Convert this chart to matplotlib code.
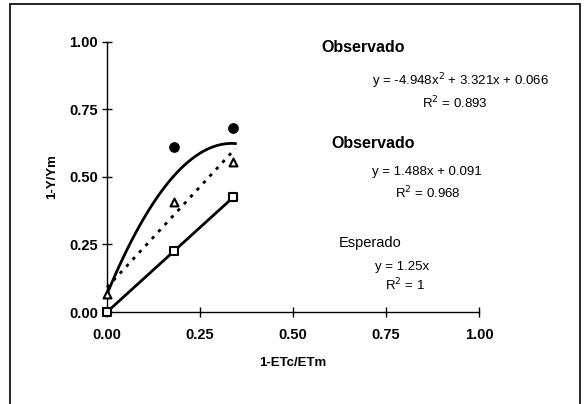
import numpy as np
import matplotlib
matplotlib.use("Agg")
import matplotlib.pyplot as plt
from matplotlib.patches import Rectangle

plt.rcParams['font.family'] = ['Liberation Sans', 'DejaVu Sans']

# data
x_obs = [0.18, 0.34]
y_circ = [0.61, 0.68]          # observed (quadratic fit)
x_tri = [0.0, 0.18, 0.34]
y_tri = [0.066, 0.405, 0.556]  # observed (linear fit)
x_sq = [0.0, 0.18, 0.34]
y_sq = [0.0, 0.225, 0.425]     # expected

# fitted curves (coefficients from the chart labels)
quad = [-4.948, 3.321, 0.066]
lin = [1.488, 0.091]
esp = [1.25, 0.0]
x_fit_end = 0.345

ticks = [0.0, 0.25, 0.5, 0.75, 1.0]
tick_labels = ["0.00", "0.25", "0.50", "0.75", "1.00"]

fig = plt.figure(figsize=(5.86, 4.04), dpi=100)
ax = fig.add_axes([107 / 586, 1 - 312 / 404, 372 / 586, 270.5 / 404])

# outer frame
fig.patches.append(Rectangle((10 / 586, -0.1), 570 / 586, 1.1 - 4 / 404,
                             transform=fig.transFigure, fill=False,
                             edgecolor='black', lw=1.2))

xs = np.linspace(0, x_fit_end, 100)
ax.plot(xs, np.polyval(quad, xs), color='black', lw=2.0, zorder=2, clip_on=False)
ax.plot(xs, np.polyval(lin, xs), color='black', lw=2.0, ls=(0, (1.2, 2.2)), zorder=2, clip_on=False)
ax.plot(xs, np.polyval(esp, xs), color='black', lw=2.0, zorder=2, clip_on=False)

ax.scatter(x_obs, y_circ, s=45, marker='o', color='black', zorder=3, clip_on=False)
ax.scatter(x_tri, y_tri, s=32, marker='^', facecolor='white', edgecolor='black', lw=1.5,
           zorder=3, clip_on=False)
ax.scatter(x_sq, y_sq, s=36, marker='s', facecolor='white', edgecolor='black', lw=1.5,
           zorder=4, clip_on=False)

ax.set_xlim(0, 1)
ax.set_ylim(0, 1)
ax.spines['top'].set_visible(False)
ax.spines['right'].set_visible(False)
ax.spines['left'].set_linewidth(1.0)
ax.spines['bottom'].set_linewidth(1.0)
ax.set_xticks(ticks)
ax.set_xticklabels(tick_labels)
ax.set_yticks(ticks)
ax.set_yticklabels(tick_labels)
ax.tick_params(direction='inout', length=7, width=1, labelsize=10.5)
ax.tick_params(axis='x', pad=8)
ax.tick_params(axis='y', pad=3)
for lab in ax.get_xticklabels() + ax.get_yticklabels():
    lab.set_fontweight('bold')
ax.set_xlabel("1-ETc/ETm", fontsize=9.5, fontweight='bold', labelpad=11)
ax.set_ylabel("1-Y/Ym", fontsize=9.5, fontweight='bold', labelpad=8)

def ftext(px, py, s, **kw):
    fig.text(px / 586, 1 - py / 404, s, ha='center', va='center', **kw)

ftext(363, 47, "Observado", fontsize=11.5, fontweight='bold')
ftext(460, 81, r"y = -4.948x$^2$ + 3.321x + 0.066", fontsize=9.5)
ftext(455, 103, r"R$^2$ = 0.893", fontsize=9.5)
ftext(373, 143, "Observado", fontsize=11.5, fontweight='bold')
ftext(427, 172, "y = 1.488x + 0.091", fontsize=9.5)
ftext(428, 193, r"R$^2$ = 0.968", fontsize=9.5)
ftext(370, 243, "Esperado", fontsize=10.5)
ftext(402, 267, "y = 1.25x", fontsize=9.5)
ftext(405, 285, r"R$^2$ = 1", fontsize=9.5)

fig.savefig("out.png", dpi=100)
